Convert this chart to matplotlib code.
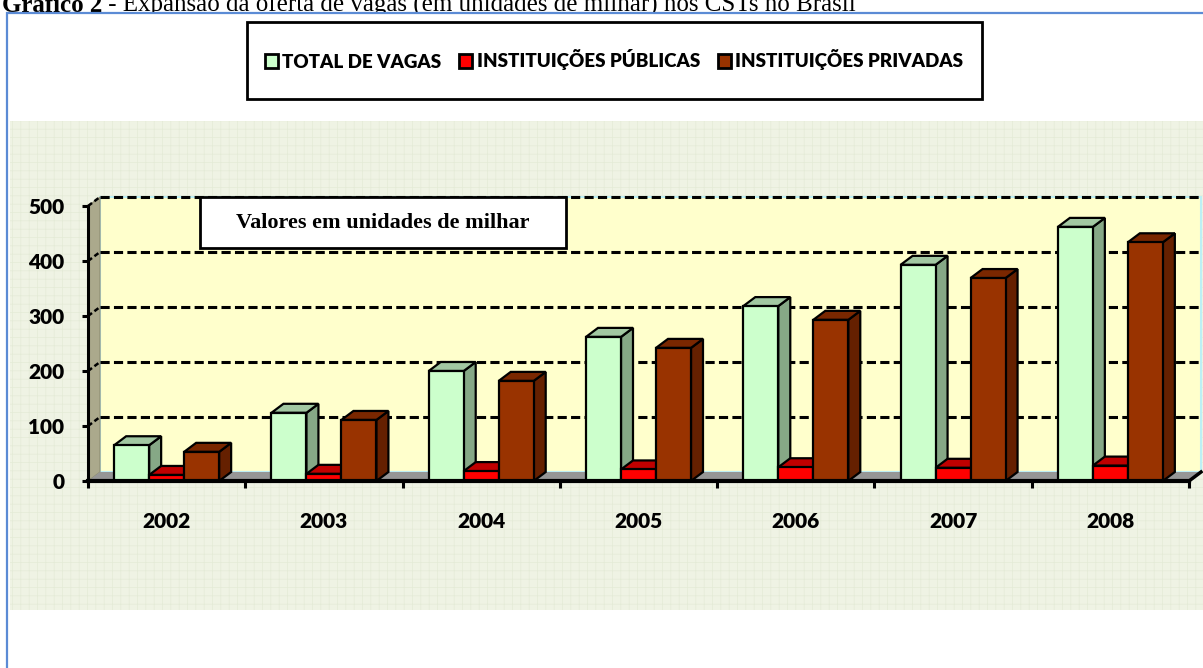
import matplotlib
matplotlib.use('Agg')
import matplotlib.pyplot as plt
from matplotlib.patches import Rectangle, Patch

# dados (unidades de milhar)
anos = ['2002', '2003', '2004', '2005', '2006', '2007', '2008']
total_vagas = [65, 124, 200, 262, 318, 393, 462]
publicas = [11, 13, 18, 21, 25, 24, 28]
privadas = [53, 111, 182, 242, 293, 369, 434]
nomes = ['TOTAL DE VAGAS', 'INSTITUIÇÕES PÚBLICAS', 'INSTITUIÇÕES PRIVADAS']
y_ticks = [0, 100, 200, 300, 400, 500]

# front, side, top colours for each series
cores = [('#CCFFCC', '#86A886', '#A2C8A2'),
         ('#FF0000', '#A00000', '#C00000'),
         ('#993300', '#652000', '#7A2700')]

W, H = 1203, 668
def fx(px):
    return px / W
def fy(py):
    return 1 - py / H

plt.rcParams['hatch.linewidth'] = 0.5
fig = plt.figure(figsize=(W / 100, H / 100), dpi=100)

# titulo (cortado no topo como no original)
t1 = fig.text(fx(2), fy(12), 'Gráfico 2', family='Liberation Serif', weight='bold',
              size=18, va='baseline', zorder=-5)
r = fig.canvas.get_renderer()
bb = t1.get_window_extent(r)
fig.text(bb.x1 / W, fy(12), ' - Expansão da oferta de vagas (em unidades de milhar) nos CSTs no Brasil',
         family='Liberation Serif', size=18, va='baseline', zorder=-5)

# moldura do grafico
fig.add_artist(Rectangle((fx(7), -0.2), 1.2, fy(13) + 0.2, transform=fig.transFigure,
                         facecolor='white', edgecolor='#5B8BD5', lw=1.6, zorder=-4))
# area texturizada
fig.add_artist(Rectangle((fx(10), fy(610)), 1.0, fy(121) - fy(610), transform=fig.transFigure,
                         facecolor='#EFF3E4', edgecolor='#E4EBD7', hatch='++', lw=0, zorder=-3))

ax = fig.add_axes([fx(88), fy(481), (1189 - 88) / W, (481 - 206) / H])
ax.set_xlim(-0.5, 6.5)
ax.set_ylim(0, 500)
ax.patch.set_visible(False)

# profundidade 3D em unidades de dados
ddx = 12 / (1101 / 7)
ddy = 9 / (275 / 500)
x0, x1 = -0.5, 6.5

# parede de fundo, parede lateral e chao
ax.fill([x0 + ddx, x1 + ddx, x1 + ddx, x0 + ddx], [ddy, ddy, 500 + ddy, 500 + ddy],
        facecolor='#FFFFCC', edgecolor='#BDEFF5', lw=1.5, zorder=1, clip_on=False)
ax.fill([x0, x0 + ddx, x0 + ddx, x0], [0, ddy, 500 + ddy, 500],
        facecolor='#ABA98C', edgecolor='#8E8D72', lw=0.8, zorder=1.1, clip_on=False)
ax.fill([x0, x1, x1 + ddx, x0 + ddx], [0, 0, ddy, ddy],
        facecolor='#969696', edgecolor='none', zorder=1.1, clip_on=False)

# linhas de grade tracejadas
for v in y_ticks[1:]:
    ax.plot([x0 + ddx, x1 + ddx], [v + ddy, v + ddy], color='black', lw=2.2,
            ls=(0, (3.0, 1.4)), zorder=1.5, clip_on=False)
    ax.plot([x0, x0 + ddx], [v, v + ddy], color='black', lw=1.8,
            ls=(0, (2, 1.2)), zorder=1.5, clip_on=False)

# barras 3D
largura = 0.2225
desloc = [-largura, 0, largura]
series = [total_vagas, publicas, privadas]
z = 2.0
for i in range(len(anos)):
    for j, vals in enumerate(series):
        v = vals[i]
        a = i + desloc[j] - largura / 2
        b = a + largura
        frente, lado, topo = cores[j]
        ax.fill([b, b + ddx, b + ddx, b], [0, ddy, v + ddy, v],
                facecolor=lado, edgecolor='black', lw=1.6, zorder=z, clip_on=False)
        ax.fill([a, b, b + ddx, a + ddx], [v, v, v + ddy, v + ddy],
                facecolor=topo, edgecolor='black', lw=1.6, zorder=z + 0.0001, clip_on=False)
        ax.bar(i + desloc[j], v, width=largura, color=frente, edgecolor='black', lw=1.6,
               zorder=z + 0.0002, clip_on=False)
        z += 0.001

# eixos
for s in ['top', 'right']:
    ax.spines[s].set_visible(False)
ax.spines['left'].set_linewidth(2.2)
ax.spines['bottom'].set_linewidth(3)
ax.plot([x1, x1 + ddx], [0, ddy], color='black', lw=2.5, zorder=2.6, clip_on=False)

tick_font = dict(family='Lato', weight='heavy', size=15)
ax.set_yticks(y_ticks)
ax.set_yticklabels([str(v) for v in y_ticks], **tick_font)
ax.tick_params(axis='y', direction='out', length=4, width=2.2, pad=13)
ax.set_xticks([k - 0.5 for k in range(len(anos) + 1)])
ax.set_xticklabels([])
ax.tick_params(axis='x', which='major', direction='out', length=5, width=2.2)
ax.set_xticks(range(len(anos)), minor=True)
ax.set_xticklabels(anos, minor=True, **tick_font)
ax.tick_params(axis='x', which='minor', length=0, pad=22)

# caixa "Valores em unidades de milhar"
fig.add_artist(Rectangle((fx(200), fy(248)), (566 - 200) / W, (248 - 197) / H,
                         transform=fig.transFigure, facecolor='white', edgecolor='black',
                         lw=2, zorder=2))
fig.text(fx(383), fy(223), 'Valores em unidades de milhar', family='Liberation Serif',
         weight='bold', size=16, ha='center', va='center', zorder=3)

# legenda
fig.add_artist(Rectangle((fx(247), fy(99)), (982 - 247) / W, (99 - 22) / H,
                         transform=fig.transFigure, facecolor='white', edgecolor='black',
                         lw=2, zorder=2))
handles = [Patch(facecolor=c[0], edgecolor='black', lw=2) for c in cores]
fig.legend(handles, nomes, loc='center', bbox_to_anchor=(fx(614), fy(60)), ncol=3,
           frameon=False, prop=dict(family='Lato', weight='heavy', size=13.5),
           handlelength=0.7, handleheight=0.7, handletextpad=0.22, columnspacing=0.95)

fig.savefig('out.png', dpi=100)
